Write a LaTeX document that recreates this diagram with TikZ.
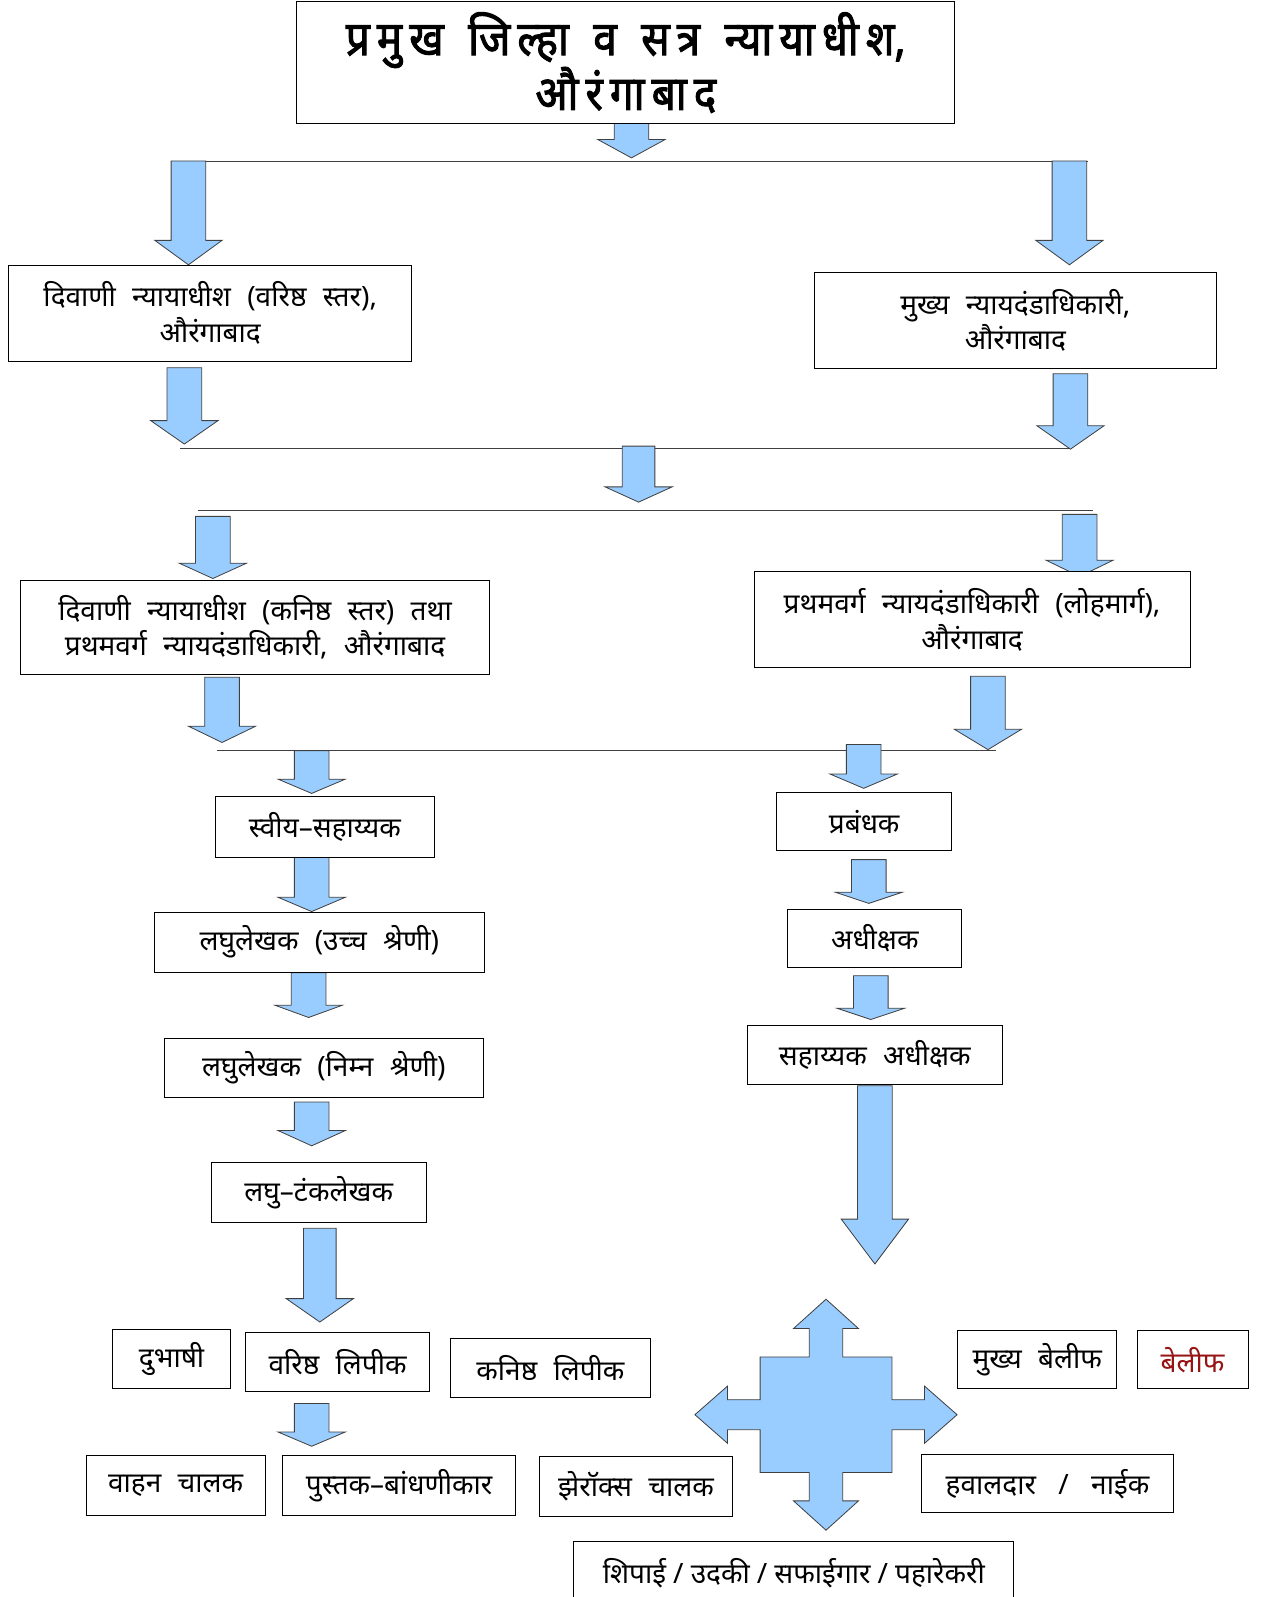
\documentclass[tikz,border=0pt]{standalone}
\usepackage{fontspec}
\newfontfamily\deva[Script=Devanagari]{Noto Sans}
\newfontfamily\devab[Script=Devanagari,FakeBold=2,FakeStretch=0.88]{Noto Sans}
\definecolor{arrowblue}{RGB}{153,204,255}
\definecolor{belred}{RGB}{150,20,20}
\newcommand\tk{\kern 7pt}
\newcommand\tw{\hspace{24pt}}
\protected\def\widesp{\spaceskip=16pt\relax}
\tikzset{
  orgbox/.style={draw=black, line width=0.9pt, fill=white, align=center,
    inner sep=0pt, anchor=north west,
    font=\deva\fontsize{27.5}{35}\selectfont\widesp},
  titlebox/.style={orgbox, font=\devab\fontsize{47}{48}\selectfont},
  barrow/.style={fill=arrowblue, draw=black!75, line width=0.8pt, line join=miter},
  hline/.style={draw=black!75, line width=1pt}
}
% x-centre, top, head start, tip, shaft half width, head half width
\newcommand\blkarrow[6]{%
  \draw[barrow] ({#1-#5},#2) -- ({#1+#5},#2) -- ({#1+#5},#3) -- ({#1+#6},#3)
    -- (#1,#4) -- ({#1-#6},#3) -- ({#1-#5},#3) -- cycle;}
\begin{document}
\begin{tikzpicture}[x=1pt,y=-1pt]
\useasboundingbox (0,0) rectangle (1246,1568);

% horizontal rails
\coordinate (l1a) at (196,159); \coordinate (l1b) at (1068,159);
\coordinate (l2a) at (177,440); \coordinate (l2b) at (1052,440);
\coordinate (l3a) at (194,501); \coordinate (l3b) at (1073,501);
\coordinate (l4a) at (213,737); \coordinate (l4b) at (978,737);
\draw[hline] (l1a) -- (l1b);
\draw[hline] (l2a) -- (l2b);
\draw[hline] (l3a) -- (l3b);
\draw[hline] (l4a) -- (l4b);

% block arrows
\blkarrow{620}{121}{137}{155}{17}{33}
\blkarrow{185}{158}{236}{260}{17}{33}
\blkarrow{1050}{158}{236}{260}{17}{33}
\blkarrow{181}{361}{413}{436}{17}{33}
\blkarrow{1051}{367}{418}{441}{17}{33}
\blkarrow{627}{438}{478}{493}{16}{33}
\blkarrow{209}{507}{553}{568}{17}{33}
\blkarrow{1060}{505}{550}{566}{17}{33}
\blkarrow{218}{665}{713}{729}{17}{33}
\blkarrow{970}{664}{716}{736}{17}{33}
\blkarrow{306}{737}{765}{779}{17}{33}
\blkarrow{848}{731}{760}{774}{17}{33}
\blkarrow{306}{841}{881}{895}{17}{33}
\blkarrow{853}{844}{876}{887}{17}{33}
\blkarrow{303}{955}{987}{999}{17}{33}
\blkarrow{855}{958}{990}{1001}{17}{33}
\blkarrow{306}{1082}{1110}{1125}{17}{33}
\blkarrow{314}{1206}{1275}{1298}{16}{33}
\blkarrow{859}{1066}{1197}{1241}{17}{33}
\blkarrow{306}{1378}{1406}{1420}{17}{33}

% four-way cross arrow
\coordinate (cx) at (811,1389);
\draw[barrow] (cx)
  ++(-16.4,-56.7) -- ++(0,-27.9) -- ++(-15.5,0) -- ++(31.9,-28.8) -- ++(31.9,28.8)
  -- ++(-15.5,0) -- ++(0,27.9) -- ++(48.3,0) -- ++(0,42) -- ++(32,0) -- ++(0,-13.4)
  -- ++(32,28.1) -- ++(-32,28.1) -- ++(0,-13.4) -- ++(-32,0) -- ++(0,42)
  -- ++(-48.3,0) -- ++(0,27.9) -- ++(15.5,0) -- ++(-31.9,28.8) -- ++(-31.9,-28.8)
  -- ++(15.5,0) -- ++(0,-27.9) -- ++(-48.3,0) -- ++(0,-42) -- ++(-32,0) -- ++(0,13.4)
  -- ++(-32,-28.1) -- ++(32,-28.1) -- ++(0,13.4) -- ++(32,0) -- ++(0,-42) -- cycle;

% boxes
\node[titlebox, minimum width=646, minimum height=120] (top) at (291,1)
  {प्र\tk मु\tk ख\tw जि\tk ल्हा\tw व\tw स\tk त्र\tw न्या\tk या\tk धी\tk श,\\[-2pt]औ\tk रं\tk गा\tk बा\tk द};
\node[orgbox, minimum width=396, minimum height=94] (dsr) at (8,260)
  {दिवाणी न्यायाधीश (वरिष्ठ स्तर),\\औरंगाबाद};
\node[orgbox, minimum width=395, minimum height=94] (cjm) at (799,267)
  {मुख्य न्यायदंडाधिकारी,\\औरंगाबाद};
\node[orgbox, minimum width=460, minimum height=93] (djr) at (20,569)
  {दिवाणी न्यायाधीश (कनिष्ठ स्तर) तथा\\प्रथमवर्ग न्यायदंडाधिकारी, औरंगाबाद};
\node[orgbox, minimum width=428, minimum height=94] (rly) at (740,561)
  {प्रथमवर्ग न्यायदंडाधिकारी (लोहमार्ग),\\औरंगाबाद};
\node[orgbox, minimum width=215, minimum height=59] (pa) at (211,782) {स्वीय–सहाय्यक};
\node[orgbox, minimum width=172, minimum height=57] (mgr) at (762,778) {प्रबंधक};
\node[orgbox, minimum width=324, minimum height=59] (steh) at (151,895) {लघुलेखक (उच्च श्रेणी)};
\node[orgbox, minimum width=171, minimum height=57] (supd) at (773,892) {अधीक्षक};
\node[orgbox, minimum width=313, minimum height=58] (stel) at (161,1019) {लघुलेखक (निम्न श्रेणी)};
\node[orgbox, minimum width=251, minimum height=58] (asupd) at (733,1006) {सहाय्यक अधीक्षक};
\node[orgbox, minimum width=211, minimum height=59] (typ) at (207,1141) {लघु–टंकलेखक};
\node[orgbox, minimum width=116, minimum height=58] (int) at (110,1305) {दुभाषी};
\node[orgbox, minimum width=180, minimum height=58] (scl) at (241,1308) {वरिष्ठ लिपीक};
\node[orgbox, minimum width=196, minimum height=58] (jcl) at (442,1314) {कनिष्ठ लिपीक};
\node[orgbox, minimum width=176, minimum height=58] (drv) at (84,1429) {वाहन चालक};
\node[orgbox, minimum width=229, minimum height=58] (bnd) at (277,1429) {पुस्तक–बांधणीकार};
\node[orgbox, minimum width=190, minimum height=58] (xer) at (529,1430) {झेरॉक्स चालक};
\node[orgbox, minimum width=156, minimum height=57] (cbl) at (940,1306) {मुख्य बेलीफ};
\node[orgbox, minimum width=109, minimum height=57, text=belred] (bl) at (1116,1306) {बेलीफ};
\node[orgbox, minimum width=248, minimum height=57] (hav) at (904,1428) {हवालदार\hspace{22pt}/\hspace{22pt}नाईक};
\node[orgbox, minimum width=432, minimum height=62] (pn) at (563,1513)
  {शिपाई\hspace{7pt}/\hspace{7pt}उदकी\hspace{7pt}/\hspace{7pt}सफाईगार\hspace{7pt}/\hspace{7pt}पहारेकरी};
\end{tikzpicture}
\end{document}
